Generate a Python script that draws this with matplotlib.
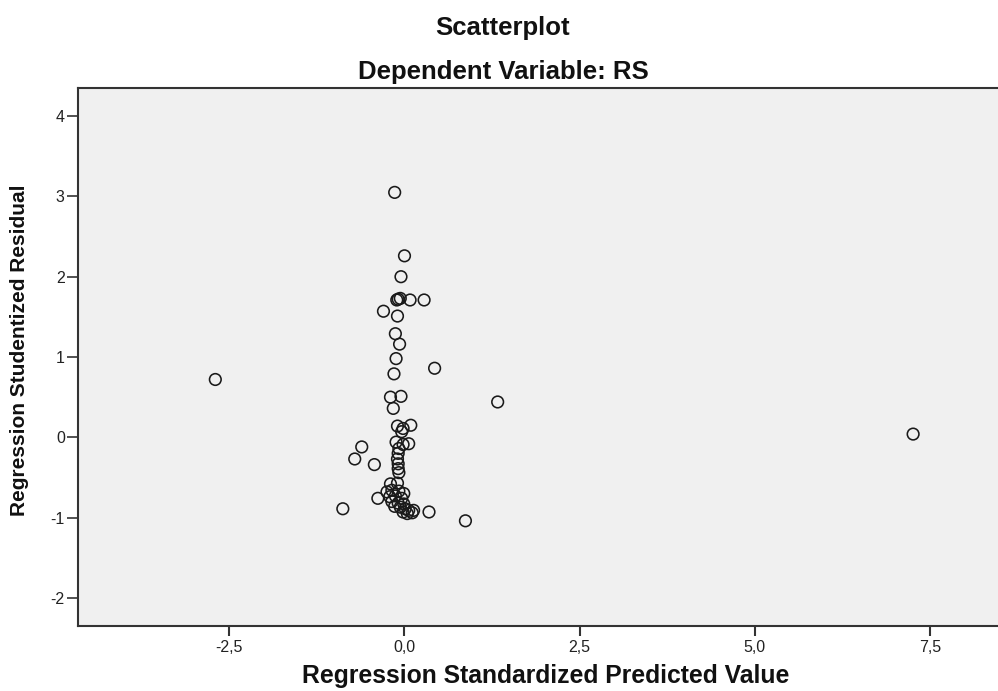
import matplotlib
matplotlib.use("Agg")
import matplotlib.pyplot as plt

# Regression Standardized Predicted Value
pred = [-2.70, 7.26, 1.33, 0.87, 0.35, -0.88, 0.43,
        -0.14, 0.00, -0.05,
        -0.11, -0.09, -0.06, 0.08, 0.28,
        -0.30, -0.10, -0.13, -0.07, -0.12, -0.15,
        -0.20, -0.05, -0.16,
        -0.10, -0.02, 0.09, -0.04,
        -0.61, -0.71, -0.43,
        -0.12, -0.02, 0.06, -0.08, -0.09, -0.10, -0.09, -0.09, -0.08,
        -0.20, -0.10, -0.38, 0.13,
        -0.25, -0.18, -0.08, -0.01, -0.21, -0.13, -0.04,
        -0.18, -0.09, -0.01, -0.14, -0.06, 0.01, -0.02, 0.06, 0.11, 0.04]
# Regression Studentized Residual
resid = [0.72, 0.04, 0.44, -1.04, -0.93, -0.89, 0.86,
         3.05, 2.26, 2.00,
         1.71, 1.72, 1.73, 1.71, 1.71,
         1.57, 1.51, 1.29, 1.16, 0.98, 0.79,
         0.50, 0.51, 0.36,
         0.14, 0.11, 0.15, 0.07,
         -0.12, -0.27, -0.34,
         -0.06, -0.09, -0.08, -0.14, -0.20, -0.27, -0.33, -0.39, -0.44,
         -0.58, -0.57, -0.76, -0.91,
         -0.68, -0.66, -0.67, -0.70, -0.74, -0.73, -0.76,
         -0.80, -0.82, -0.83, -0.86, -0.87, -0.89, -0.93, -0.91, -0.94, -0.95]

xticks = [-2.5, 0.0, 2.5, 5.0, 7.5]
xticklabels = ["-2,5", "0,0", "2,5", "5,0", "7,5"]
yticks = [-2, -1, 0, 1, 2, 3, 4]
yticklabels = ["-2", "-1", "0", "1", "2", "3", "4"]

plt.rcParams['font.family'] = ['Liberation Sans', 'DejaVu Sans']
plt.rcParams['axes.unicode_minus'] = False

fig = plt.figure(figsize=(9.98, 6.91), dpi=100)
ax = fig.add_axes([78/998, 65/691, 922/998, 538/691])
ax.set_facecolor("#F0F0F0")

ax.scatter(pred, resid, s=70, facecolors='none', edgecolors='#1a1a1a',
           linewidths=1.15, zorder=3)

ax.set_xlim(-4.66, 8.5)
ax.set_ylim(-2.35, 4.35)
ax.set_xticks(xticks)
ax.set_xticklabels(xticklabels)
ax.set_yticks(yticks)
ax.set_yticklabels(yticklabels)

for side in ['left', 'bottom', 'top']:
    ax.spines[side].set_linewidth(1.5)
    ax.spines[side].set_color('#333333')
ax.spines['right'].set_visible(False)

ax.tick_params(axis='x', length=7, width=1.5, color='#333333', pad=3,
               labelsize=11.5, labelcolor='#222222')
ax.tick_params(axis='y', length=8, width=1.2, color='#333333', pad=1.5,
               labelsize=11.5, labelcolor='#222222')

fig.text(503/998, 1 - 28/691, "Scatterplot", ha='center', va='center',
         fontsize=18.5, fontweight='bold', color='#111111')
fig.text(503/998, 1 - 72/691, "Dependent Variable: RS", ha='center', va='center',
         fontsize=18.5, fontweight='bold', color='#111111')
fig.text(546/998, 1 - 676/691, "Regression Standardized Predicted Value",
         ha='center', va='center', fontsize=17.8, fontweight='bold', color='#111111')
fig.text(20/998, 1 - 350/691, "Regression Studentized Residual",
         ha='center', va='center', rotation=90, fontsize=15,
         fontweight='bold', color='#111111')

fig.savefig("out.png", dpi=100, facecolor='white')
